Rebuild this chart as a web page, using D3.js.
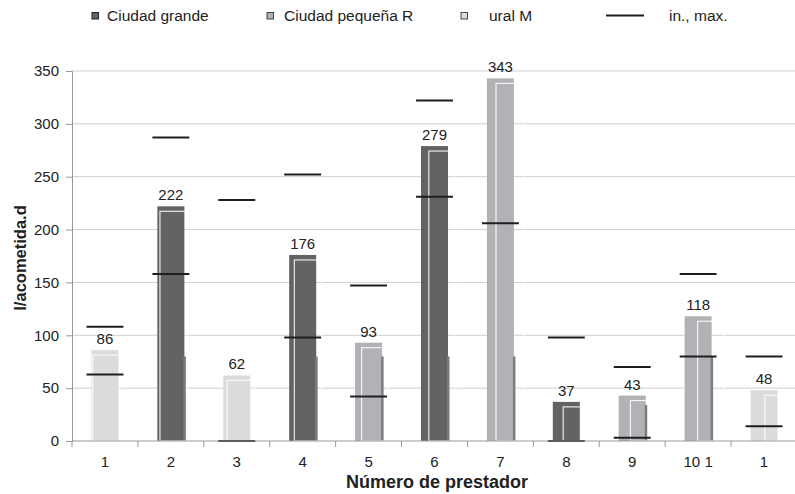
<!DOCTYPE html>
<html>
<head>
<meta charset="utf-8">
<script src="https://cdn.jsdelivr.net/npm/d3@7"></script>
<style>
  html, body { margin: 0; padding: 0; background: #fff; }
  svg { display: block; font-family: "Liberation Sans", Arial, sans-serif; }
</style>
</head>
<body>
<svg id="chart" width="795" height="494"></svg>
<script>
// Consumo por prestador (l/acometida.d)
const categories = ["1", "2", "3", "4", "5", "6", "7", "8", "9", "10", "11"];
const tickLabels = ["1", "2", "3", "4", "5", "6", "7", "8", "9", "10 1", "1"];
const groups = ["rural", "grande", "rural", "grande", "pequena", "grande", "pequena", "grande", "pequena", "pequena", "rural"];
const values = [86, 222, 62, 176, 93, 279, 343, 37, 43, 118, 48];
const minValues = [63, 158, 0, 98, 42, 231, 206, 0, 3, 80, 14];
const maxValues = [108, 287, 228, 252, 147, 322, null, 98, 70, 158, 80];
const shadeValues = [0, 80, 0, 80, 80, 80, 80, 0, 34, 80, 0];
const yTicks = [0, 50, 100, 150, 200, 250, 300, 350];
const legendLabels = ["Ciudad grande", "Ciudad pequeña R", "ural M", "in., max."];

const colors = { grande: "#636364", pequena: "#b1b2b5", rural: "#dcdcde" };

const svg = d3.select("#chart");
const margin = { left: 72, right: -2, top: 71, bottom: 53 };
const W = 795, H = 494;
const FONT = "'Liberation Sans', Arial, sans-serif";

const x = d3.scaleBand().domain(categories).range([margin.left, W - margin.right]).padding(0);
const y = d3.scaleLinear().domain([0, 350]).range([H - margin.bottom, margin.top]);
const barW = x.bandwidth() * 0.41;
const lineW = x.bandwidth() * 0.56;

// gridlines
svg.append("g").selectAll("line").data(yTicks.filter(t => t > 0)).join("line")
  .attr("x1", margin.left).attr("x2", W)
  .attr("y1", d => y(d)).attr("y2", d => y(d))
  .attr("stroke", "#cfcfcf").attr("stroke-width", 1);

// bars
const g = svg.append("g");
categories.forEach((c, i) => {
  const cx = x(c) + x.bandwidth() / 2;
  const x0 = cx - barW / 2;
  const off = 1.3 * (i + 1);
  g.append("rect")
    .attr("x", x0).attr("y", y(values[i]))
    .attr("width", barW).attr("height", y(0) - y(values[i]))
    .attr("fill", colors[groups[i]]);
  if (shadeValues[i] > 0) {
    g.append("rect")
      .attr("x", x0 + barW - 1).attr("y", y(shadeValues[i]))
      .attr("width", 2.5).attr("height", y(0) - y(shadeValues[i]))
      .attr("fill", "#7d7d7f");
  }
  // offset highlight outline
  g.append("rect")
    .attr("x", x0 + off).attr("y", y(values[i]) + 5)
    .attr("width", barW).attr("height", y(0) - y(values[i]) - 5)
    .attr("fill", "none").attr("stroke", "#fff").attr("stroke-opacity", 0.85).attr("stroke-width", 1.2);
  g.append("text")
    .attr("x", cx).attr("y", y(values[i]) - 6)
    .attr("text-anchor", "middle").attr("font-size", 15).attr("fill", "#222")
    .text(values[i]);
});

// min / max markers
const mm = svg.append("g");
categories.forEach((c, i) => {
  const cx = x(c) + x.bandwidth() / 2;
  [minValues[i], maxValues[i]].forEach(v => {
    if (v === null) return;
    mm.append("line")
      .attr("x1", cx - lineW / 2).attr("x2", cx + lineW / 2)
      .attr("y1", y(v)).attr("y2", y(v))
      .attr("stroke", "#1e1e1e").attr("stroke-width", 2);
  });
});

// y axis
const yAxis = d3.axisLeft(y).tickValues(yTicks).tickSize(6).tickPadding(7);
const ya = svg.append("g").attr("transform", `translate(${margin.left},0)`).call(yAxis);
ya.select(".domain").attr("stroke", "#999");
ya.selectAll(".tick line").attr("stroke", "#999");
ya.selectAll(".tick text").attr("font-size", 15).attr("fill", "#222").attr("font-family", FONT);

// x axis
const xa = svg.append("g").attr("transform", `translate(0,${y(0)})`);
xa.append("line").attr("x1", margin.left).attr("x2", W).attr("stroke", "#999");
xa.selectAll(".tk").data(categories).join("line").attr("class", "tk")
  .attr("x1", d => x(d)).attr("x2", d => x(d)).attr("y1", 0).attr("y2", 6)
  .attr("stroke", "#999");
xa.selectAll(".lbl").data(categories).join("text").attr("class", "lbl")
  .attr("x", d => x(d) + x.bandwidth() / 2).attr("y", 26)
  .attr("text-anchor", "middle").attr("font-size", 15).attr("fill", "#222")
  .text((d, i) => tickLabels[i]);

// axis titles
svg.append("text").attr("x", 437).attr("y", 488).attr("text-anchor", "middle")
  .attr("font-size", 18).attr("font-weight", "bold").attr("fill", "#222")
  .text("Número de prestador");
svg.append("text").attr("transform", "translate(26,258) rotate(-90)")
  .attr("text-anchor", "middle").attr("font-size", 16.5).attr("font-weight", "bold").attr("fill", "#222")
  .text("l/acometida.d");

// legend
const lg = svg.append("g");
const legendItems = [
  { sx: 92, tx: 107, fill: colors.grande, stroke: "#222" },
  { sx: 267, tx: 284, fill: colors.pequena, stroke: "#444" },
  { sx: 461, tx: 489, fill: colors.rural, stroke: "#444" }
];
legendItems.forEach((it, i) => {
  lg.append("rect").attr("x", it.sx).attr("y", 12.5).attr("width", 6.5).attr("height", 6.5)
    .attr("fill", it.fill).attr("stroke", it.stroke).attr("stroke-width", 1);
  lg.append("text").attr("x", it.tx).attr("y", 21).attr("font-size", 15.5).attr("fill", "#222")
    .text(legendLabels[i]);
});
lg.append("line").attr("x1", 606).attr("x2", 644).attr("y1", 15.5).attr("y2", 15.5)
  .attr("stroke", "#1e1e1e").attr("stroke-width", 2);
lg.append("text").attr("x", 669).attr("y", 21).attr("font-size", 15.5).attr("fill", "#222")
  .text(legendLabels[3]);
</script>
</body>
</html>
